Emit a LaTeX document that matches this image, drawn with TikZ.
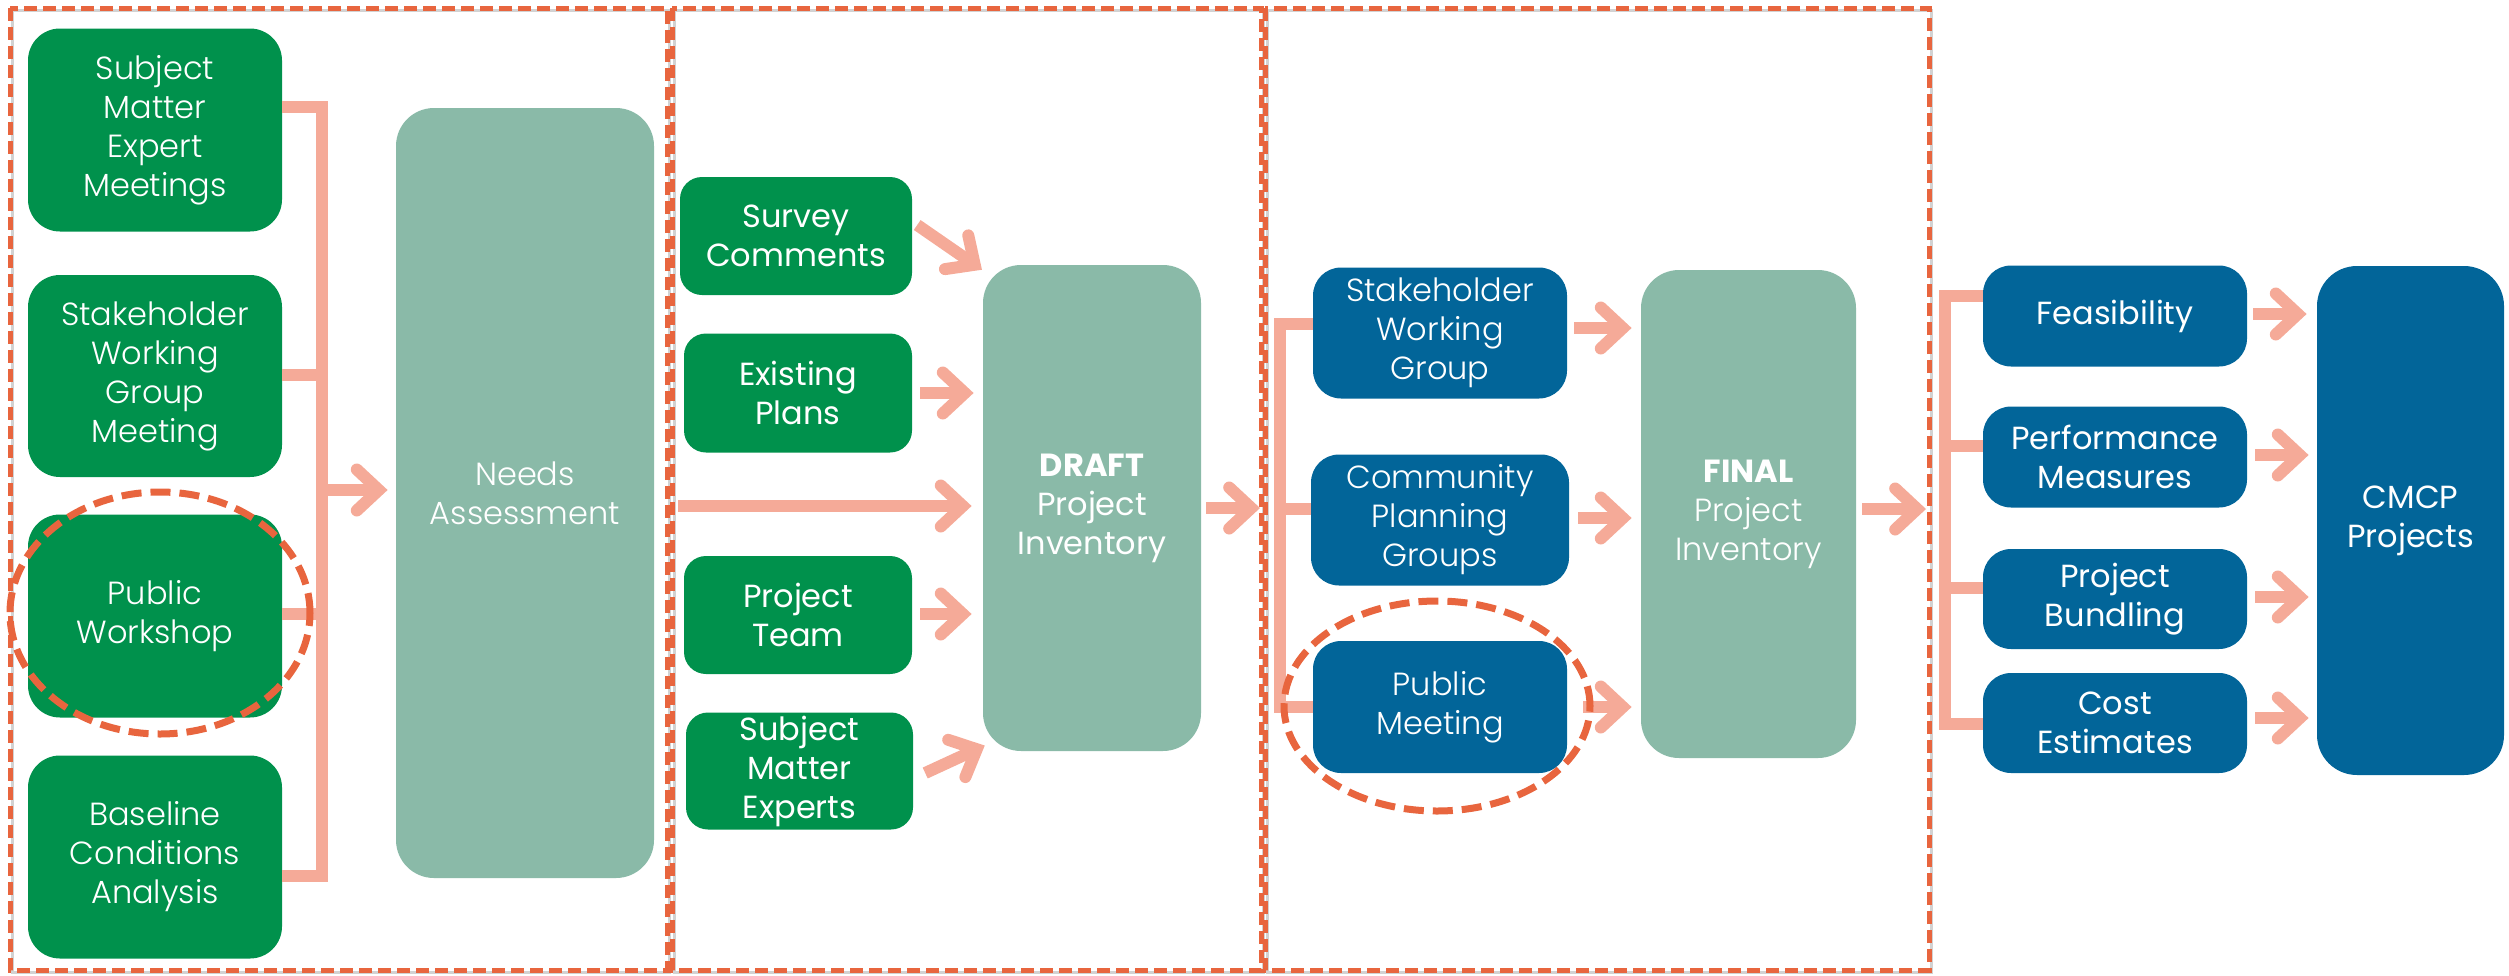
\documentclass[tikz,border=0pt]{standalone}
\usepackage{fontspec}
\setmainfont{Poppins}
\newfontfamily\lightfont{Poppins Light}
\usetikzlibrary{calc,decorations.markings}
\definecolor{grn}{RGB}{0,145,76}
\definecolor{sage}{RGB}{138,186,168}
\definecolor{blu}{RGB}{2,101,153}
\definecolor{salmon}{RGB}{245,170,152}
\definecolor{frm}{RGB}{232,101,62}
\tikzset{
  basebox/.style={inner sep=0pt, align=center, text=white, font=\fontsize{32}{39}\selectfont},
  lt/.style={font=\fontsize{32}{39}\lightfont},
  gbox/.style={basebox, fill=grn, rounded corners=32pt},
  mbox/.style={basebox, fill=grn, rounded corners=22pt},
  bbox/.style={basebox, fill=blu, rounded corners=28pt},
  bigbox/.style={basebox, fill=sage, rounded corners=38pt},
  cmbox/.style={basebox, fill=blu, rounded corners=40pt},
  brk/.style={draw=salmon, line width=12pt, line join=miter},
  arr/.style={draw=salmon, line width=12pt, postaction={decorate},
    decoration={markings, mark=at position 1 with {\draw[salmon, solid, line width=12pt, line cap=round, line join=miter] (-22pt,20.5pt) -- (0pt,0pt) -- (-22pt,-20.5pt);}}},
  frame/.style={draw=frm, line width=5pt, dash pattern=on 13pt off 6pt},
  fshadow/.style={draw=black!35, line width=3pt, opacity=0.5},
  ell/.style={draw=frm, line width=7pt, dash pattern=on 20pt off 9pt}
}
\begin{document}
\begin{tikzpicture}[x=1pt,y=-1pt]
\useasboundingbox (0,0) rectangle (2509,975);

% frames (shadow then dashed)
\draw[fshadow] (12.5,10.5) rectangle (669.5,972.5);
\draw[fshadow] (674.5,10.5) rectangle (1263.5,972.5);
\draw[fshadow] (1267.5,10.5) rectangle (1931.5,972.5);
\draw[frame] (10,8) rectangle (667,970);
\draw[frame] (672,8) rectangle (1261,970);
\draw[frame] (1265,8) rectangle (1929,970);

% left column
\node[gbox, lt, minimum width=254pt, minimum height=203pt] (sme1) at (155,130) {Subject\\Matter\\Expert\\Meetings};
\node[gbox, lt, minimum width=254pt, minimum height=202pt] (swg1) at (155,376) {Stakeholder\\Working\\Group\\Meeting};
\node[gbox, lt, minimum width=254pt, minimum height=203pt] (pw) at (155,616) {Public\\Workshop};
\node[gbox, lt, minimum width=254pt, minimum height=203pt] (bca) at (155,857) {Baseline\\Conditions\\Analysis};
\node[bigbox, lt, minimum width=258pt, minimum height=770pt] (needs) at (525,493) {Needs\\Assessment};

\draw[brk] ($(sme1.east)+(0,-23)$) -| ($(bca.east)+(40,19)$) -- ($(bca.east)+(0,19)$);
\draw[brk] ($(swg1.east)+(0,-1)$) -- +(40,0);
\draw[brk] ($(pw.east)+(0,-2)$) -- +(40,0);
\coordinate (lb) at (322,490);
\draw[arr] (lb) -- ($(needs.west)+(-17,-3)$);

% middle column
\node[mbox, minimum width=232pt, minimum height=118pt] (sc) at (796,236) {Survey\\Comments};
\node[mbox, minimum width=228pt, minimum height=119pt] (ep) at (798,393) {Existing\\Plans};
\node[mbox, minimum width=228pt, minimum height=118pt] (pt) at (798,615) {Project\\Team};
\node[mbox, minimum width=227pt, minimum height=117pt] (sme2) at (799.5,771) {Subject\\Matter\\Experts};
\node[bigbox, minimum width=218pt, minimum height=486pt] (draft) at (1092,508) {\textbf{DRAFT}\\Project\\Inventory};

\draw[arr] ($(sc.east)+(5,-11)$) -- ($(draft.north west)+(-8,0)$);
\draw[arr] ($(ep.east)+(8,0)$) -- ($(ep.east -| draft.west)+(-18,0)$);
\draw[arr] ($(needs.east)+(24,13)$) -- ($(needs.east -| draft.west)+(-20,13)$);
\draw[arr] ($(pt.east)+(8,-1)$) -- ($(pt.east -| draft.west)+(-20,-1)$);
\draw[arr] ($(sme2.east)+(12,2)$) -- ($(draft.south west)+(-6,-2)$);

% third frame
\node[bbox, lt, minimum width=254pt, minimum height=131pt] (swg2) at (1440,333) {Stakeholder\\Working\\Group};
\node[bbox, lt, minimum width=258pt, minimum height=131pt] (cpg) at (1440,520) {Community\\Planning\\Groups};
\node[bbox, lt, minimum width=254pt, minimum height=132pt] (pm) at (1440,707) {Public\\Meeting};
\node[bigbox, minimum width=215pt, minimum height=488pt] (final) at (1748.5,514) {\textbf{FINAL}\\{\lightfont Project}\\{\lightfont Inventory}};

\draw[arr] ($(draft.east)+(5,0)$) -- ($(draft.east)+(50,0)$);
\draw[brk] ($(swg2.west)+(0,-9)$) -| ($(pm.west)+(-33,0)$) -- (pm.west);
\draw[brk] ($(cpg.west)+(0,-11)$) -- ($(cpg.west)+(-31,-11)$);

\draw[arr] ($(swg2.east)+(7,-5)$) -- ($(swg2.east -| final.west)+(-18,-5)$);
\draw[arr] ($(cpg.east)+(9,-2)$) -- ($(cpg.east -| final.west)+(-18,-2)$);
\draw[arr] ($(pm.east)+(16,0)$) -- ($(pm.east -| final.west)+(-18,0)$);

% right part
\node[bbox, minimum width=264pt, minimum height=101pt] (feas) at (2115,316) {Feasibility};
\node[bbox, minimum width=264pt, minimum height=101pt] (perf) at (2115,457) {Performance\\Measures};
\node[bbox, minimum width=264pt, minimum height=100pt] (bund) at (2115,599) {Project\\Bundling};
\node[bbox, minimum width=264pt, minimum height=100pt] (cost) at (2115,723) {Cost\\Estimates};
\node[cmbox, minimum width=187pt, minimum height=509pt] (cmcp) at (2410.5,520.5) {CMCP\\Projects};

\draw[arr] ($(final.east)+(6,-5)$) -- ($(final.east)+(61,-5)$);
\draw[brk] ($(feas.west)+(0,-20)$) -| ($(cost.west)+(-38,1)$) -- ($(cost.west)+(0,1)$);
\draw[brk] ($(perf.west)+(0,-11)$) -- ($(perf.west)+(-38,-11)$);
\draw[brk] ($(bund.west)+(0,-11)$) -- ($(bund.west)+(-38,-11)$);

\draw[arr] ($(feas.east)+(6,-2)$) -- ($(feas.east -| cmcp.west)+(-19,-2)$);
\draw[arr] ($(perf.east)+(8,-2)$) -- ($(perf.east -| cmcp.west)+(-17,-2)$);
\draw[arr] ($(bund.east)+(8,-2)$) -- ($(bund.east -| cmcp.west)+(-17,-2)$);
\draw[arr] ($(cost.east)+(8,-5)$) -- ($(cost.east -| cmcp.west)+(-17,-5)$);

% highlight ellipses
\draw[ell] (160,613) ellipse [x radius=150pt, y radius=121pt];
\draw[ell] (1437,706) ellipse [x radius=153pt, y radius=105pt];
\end{tikzpicture}
\end{document}
